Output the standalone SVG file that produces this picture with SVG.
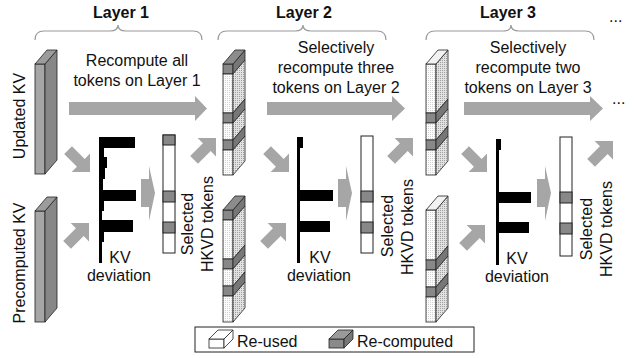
<svg xmlns="http://www.w3.org/2000/svg" xmlns:xlink="http://www.w3.org/1999/xlink" width="634" height="358" viewBox="0 0 634 358">
<style>
text{font-family:"Liberation Sans",Arial,sans-serif;font-size:16px;fill:#111}
.title{font-weight:bold;text-anchor:middle}
.mid{text-anchor:middle}
.brace{fill:none;stroke:#999;stroke-width:1.2}
.arrow{fill:#a6a6a6}
.edge{stroke:#222;stroke-width:0.8}
.dF{fill:#888}
.dS{fill:#777}
.dT{fill:#8c8c8c}
.wF{fill:url(#dotF)}
.wS{fill:url(#dotS)}
.wT{fill:#f2f2f2}
.kvF{fill:#a6a6a6}
.kvS{fill:#878787}
.kvT{fill:#9c9c9c}
.bar{fill:#000}
.sel{stroke:#222;stroke-width:1}
</style>
<defs>
<pattern id="dotF" width="2" height="2" patternUnits="userSpaceOnUse"><rect width="2" height="2" fill="#fbfbfb"/><rect width="1" height="1" fill="#d4d4d4"/></pattern>
<pattern id="dotS" width="2" height="2" patternUnits="userSpaceOnUse"><rect width="2" height="2" fill="#e2e2e2"/><rect width="1" height="1" fill="#a0a0a0"/></pattern>
<path id="diag" d="M0,0 L-13,-13 L-13,-5.5 L-31,-5.5 L-31,5.5 L-13,5.5 L-13,13 Z"/>
</defs>

<!-- titles and braces -->
<g id="layer1-title">
<text class="title" x="121" y="18">Layer 1</text>
<path class="brace" d="M35,40 Q35,31 44,31 L110,31 Q118,31 118,25 Q118,31 126,31 L193,31 Q202,31 202,40"/>
</g>
<g id="layer2-title">
<text class="title" x="304" y="18">Layer 2</text>
<path class="brace" d="M218,40 Q218,31 227,31 L295,31 Q303,31 303,25 Q303,31 311,31 L377,31 Q386,31 386,40"/>
</g>
<g id="layer3-title">
<text class="title" x="508" y="18">Layer 3</text>
<path class="brace" d="M426,40 Q426,31 435,31 L503,31 Q511,31 511,25 Q511,31 519,31 L585,31 Q594,31 594,40"/>
</g>
<text id="dots-top" x="609" y="22">...</text>

<!-- Updated KV -->
<g id="updated-kv">
<g transform="translate(35,64)">
<rect class="kvF edge" x="0" y="0" width="10" height="110"/>
<polygon class="kvS edge" points="10,0 22,-14 22,96 10,110"/>
<polygon class="kvT edge" points="0,0 12,-14 22,-14 10,0"/>
</g>
<text class="mid" transform="translate(25,116) rotate(-90)">Updated KV</text>
</g>

<!-- Precomputed KV -->
<g id="precomputed-kv">
<g transform="translate(35,211)">
<rect class="kvF edge" x="0" y="0" width="10" height="111"/>
<polygon class="kvS edge" points="10,0 22,-14 22,97 10,111"/>
<polygon class="kvT edge" points="0,0 12,-14 22,-14 10,0"/>
</g>
<text class="mid" transform="translate(25,263) rotate(-90)">Precomputed KV</text>
</g>

<!-- Layer 1 deviation chart -->
<g id="l1-deviation">
<path class="bar" d="M99,137 H135 V148 H104 V157 H107 V168 H105 V179 H103 V190 H136 V201 H104 V211 H102 V220 H133 V232 H104 V242 H102 V263 H99 Z"/>
<text class="mid" x="120" y="263">KV</text>
<text class="mid" x="119" y="281">deviation</text>
</g>

<!-- Layer 1 selected -->
<g id="l1-selected">
<rect x="163" y="135" width="12" height="118" fill="#fff" class="sel"/>
<rect x="163" y="135" width="12" height="10" class="dF sel"/>
<rect x="163" y="191" width="12" height="11" class="dF sel"/>
<rect x="163" y="222" width="12" height="11" class="dF sel"/>
<text class="mid" transform="translate(193,224) rotate(-90)">Selected</text>
<text class="mid" transform="translate(213,224) rotate(-90)">HKVD tokens</text>
</g>

<text id="l1-label" class="mid" x="137" y="66">Recompute all<tspan x="137" y="86">tokens on Layer 1</tspan></text>

<!-- Layer 2 columns -->
<g id="l2-upper-kv" transform="translate(223,64)">
<rect class="dF edge" x="0" y="0" width="10" height="10"/>
<rect class="wF edge" x="0" y="10" width="10" height="39"/>
<rect class="dF edge" x="0" y="49" width="10" height="10"/>
<rect class="wF edge" x="0" y="59" width="10" height="17"/>
<rect class="dF edge" x="0" y="76" width="10" height="10"/>
<rect class="wF edge" x="0" y="86" width="10" height="25"/>
<polygon class="dS edge" points="10,0 22,-14 22,-4 10,10"/>
<polygon class="wS edge" points="10,10 22,-4 22,35 10,49"/>
<polygon class="dS edge" points="10,49 22,35 22,45 10,59"/>
<polygon class="wS edge" points="10,59 22,45 22,62 10,76"/>
<polygon class="dS edge" points="10,76 22,62 22,72 10,86"/>
<polygon class="wS edge" points="10,86 22,72 22,97 10,111"/>
<polygon class="dT edge" points="0,0 12,-14 22,-14 10,0"/>
</g>
<g id="l2-lower-kv" transform="translate(223,210)">
<rect class="dF edge" x="0" y="0" width="10" height="10"/>
<rect class="wF edge" x="0" y="10" width="10" height="39"/>
<rect class="dF edge" x="0" y="49" width="10" height="10"/>
<rect class="wF edge" x="0" y="59" width="10" height="17"/>
<rect class="dF edge" x="0" y="76" width="10" height="10"/>
<rect class="wF edge" x="0" y="86" width="10" height="26"/>
<polygon class="dS edge" points="10,0 22,-14 22,-4 10,10"/>
<polygon class="wS edge" points="10,10 22,-4 22,35 10,49"/>
<polygon class="dS edge" points="10,49 22,35 22,45 10,59"/>
<polygon class="wS edge" points="10,59 22,45 22,62 10,76"/>
<polygon class="dS edge" points="10,76 22,62 22,72 10,86"/>
<polygon class="wS edge" points="10,86 22,72 22,98 10,112"/>
<polygon class="dT edge" points="0,0 12,-14 22,-14 10,0"/>
</g>

<g id="l2-deviation">
<rect class="bar" x="297" y="137" width="3" height="126"/>
<rect class="bar" x="297" y="137" width="6" height="11"/>
<rect class="bar" x="297" y="190" width="36" height="11"/>
<rect class="bar" x="297" y="221" width="33" height="11"/>
<text class="mid" x="320" y="263">KV</text>
<text class="mid" x="319" y="281">deviation</text>
</g>

<g id="l2-selected">
<rect x="361" y="136" width="12" height="117" fill="#fff" class="sel"/>
<rect x="361" y="191" width="12" height="11" class="dF sel"/>
<rect x="361" y="222" width="12" height="11" class="dF sel"/>
<text class="mid" transform="translate(393,226) rotate(-90)">Selected</text>
<text class="mid" transform="translate(413,227) rotate(-90)">HKVD tokens</text>
</g>

<text id="l2-label" class="mid" x="336" y="53">Selectively<tspan x="336" y="73">recompute three</tspan><tspan x="336" y="93">tokens on Layer 2</tspan></text>

<!-- Layer 3 columns -->
<g id="l3-upper-kv" transform="translate(426,64)">
<rect class="wF edge" x="0" y="0" width="10" height="49"/>
<rect class="dF edge" x="0" y="49" width="10" height="10"/>
<rect class="wF edge" x="0" y="59" width="10" height="17"/>
<rect class="dF edge" x="0" y="76" width="10" height="10"/>
<rect class="wF edge" x="0" y="86" width="10" height="25"/>
<polygon class="wS edge" points="10,0 22,-14 22,35 10,49"/>
<polygon class="dS edge" points="10,49 22,35 22,45 10,59"/>
<polygon class="wS edge" points="10,59 22,45 22,62 10,76"/>
<polygon class="dS edge" points="10,76 22,62 22,72 10,86"/>
<polygon class="wS edge" points="10,86 22,72 22,97 10,111"/>
<polygon class="wT edge" points="0,0 12,-14 22,-14 10,0"/>
</g>
<g id="l3-lower-kv" transform="translate(426,210)">
<rect class="wF edge" x="0" y="0" width="10" height="50"/>
<rect class="dF edge" x="0" y="50" width="10" height="10"/>
<rect class="wF edge" x="0" y="60" width="10" height="17"/>
<rect class="dF edge" x="0" y="77" width="10" height="10"/>
<rect class="wF edge" x="0" y="87" width="10" height="25"/>
<polygon class="wS edge" points="10,0 22,-14 22,36 10,50"/>
<polygon class="dS edge" points="10,50 22,36 22,46 10,60"/>
<polygon class="wS edge" points="10,60 22,46 22,63 10,77"/>
<polygon class="dS edge" points="10,77 22,63 22,73 10,87"/>
<polygon class="wS edge" points="10,87 22,73 22,98 10,112"/>
<polygon class="wT edge" points="0,0 12,-14 22,-14 10,0"/>
</g>

<g id="l3-deviation">
<rect class="bar" x="496" y="139" width="3" height="126"/>
<rect class="bar" x="496" y="139" width="5" height="11"/>
<rect class="bar" x="496" y="192" width="35" height="11"/>
<rect class="bar" x="496" y="222" width="33" height="11"/>
<text class="mid" x="517" y="264">KV</text>
<text class="mid" x="517" y="282">deviation</text>
</g>

<g id="l3-selected">
<rect x="560" y="137" width="12" height="119" fill="#fff" class="sel"/>
<rect x="560" y="192" width="12" height="11" class="dF sel"/>
<rect x="560" y="223" width="12" height="11" class="dF sel"/>
<text class="mid" transform="translate(592,229) rotate(-90)">Selected</text>
<text class="mid" transform="translate(612,229) rotate(-90)">HKVD tokens</text>
</g>

<text id="l3-label" class="mid" x="528" y="53">Selectively<tspan x="528" y="73">recompute two</tspan><tspan x="528" y="93">tokens on Layer 3</tspan></text>
<text id="dots-mid" x="612" y="104">...</text>

<!-- connectors -->
<g id="connectors" class="arrow">
<path d="M69,102 H195 V96 L207,108.5 L195,121 V115 H69 Z"/>
<path d="M267,102 H392 V96 L405,108.5 L392,121 V115 H267 Z"/>
<path d="M464,102 H590 V96 L603,108.5 L590,121 V115 H464 Z"/>
<path d="M141,179 H149 V166 L155,193 L149,221 V207 H141 Z"/>
<path d="M338,179 H346 V166 L352,193 L346,221 V207 H338 Z"/>
<path d="M537,179 H545 V166 L551,193 L545,221 V207 H537 Z"/>
<use xlink:href="#diag" href="#diag" transform="translate(90,172) rotate(45)"/>
<use xlink:href="#diag" href="#diag" transform="translate(89,223) rotate(-45)"/>
<use xlink:href="#diag" href="#diag" transform="translate(216,138) rotate(-45)"/>
<use xlink:href="#diag" href="#diag" transform="translate(289,172) rotate(45)"/>
<use xlink:href="#diag" href="#diag" transform="translate(286,223) rotate(-45)"/>
<use xlink:href="#diag" href="#diag" transform="translate(413,138) rotate(-45)"/>
<use xlink:href="#diag" href="#diag" transform="translate(487,172) rotate(45)"/>
<use xlink:href="#diag" href="#diag" transform="translate(485,225) rotate(-45)"/>
<use xlink:href="#diag" href="#diag" transform="translate(613,141) rotate(-45)"/>
</g>

<!-- legend -->
<g id="legend">
<rect x="195" y="327" width="279" height="25" fill="#fff" stroke="#222" stroke-width="1"/>
<rect class="edge" x="209" y="339" width="15" height="9" fill="#fff"/>
<polygon class="edge" points="209,339 218,330 233,330 224,339" fill="#fff"/>
<polygon class="edge" points="224,339 233,330 233,339 224,348" fill="#fff"/>
<text x="237" y="347">Re-used</text>
<rect class="edge" x="329" y="339" width="15" height="9" fill="#8a8a8a"/>
<polygon class="edge" points="329,339 338,330 353,330 344,339" fill="#9a9a9a"/>
<polygon class="edge" points="344,339 353,330 353,339 344,348" fill="#777"/>
<text x="357" y="347">Re-computed</text>
</g>
</svg>
